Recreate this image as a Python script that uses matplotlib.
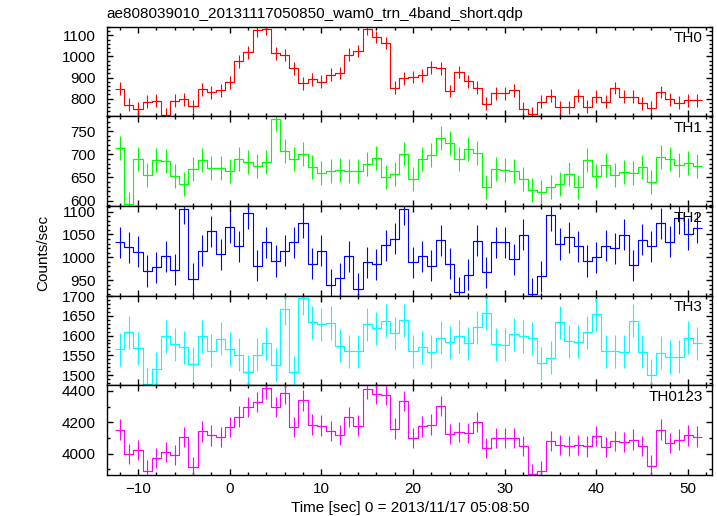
"""Multi-band WAM light curve, QDP style."""

import matplotlib

matplotlib.use("Agg")
import matplotlib.pyplot as plt
from matplotlib.ticker import MultipleLocator

plt.rcParams["font.family"] = ["Liberation Sans", "DejaVu Sans"]
plt.rcParams["font.size"] = 11

# bin centres [sec], 1 s bins
time = list(range(-12, 52))

th0 = [847, 772, 753, 786, 790, 724, 790, 797, 764, 845, 830, 839, 877, 977,
       1020, 1124, 1130, 1014, 1006, 944, 872, 892, 881, 913, 922, 1009, 1025,
       1130, 1092, 1064, 852, 897, 903, 911, 949, 943, 836, 926, 883, 852, 776,
       825, 825, 839, 753, 729, 786, 815, 760, 760, 815, 762, 809, 786, 850,
       809, 809, 778, 757, 832, 797, 781, 792, 792]
th1 = [713, 593, 690, 656, 688, 685, 653, 635, 669, 688, 671, 671, 664, 690,
       683, 675, 684, 777, 707, 690, 701, 673, 660, 664, 667, 665, 665, 680,
       692, 652, 658, 700, 647, 690, 698, 736, 725, 690, 711, 702, 630, 669,
       667, 663, 647, 622, 619, 630, 635, 657, 630, 688, 653, 676, 655, 662,
       659, 673, 640, 694, 690, 677, 682, 675]
th2 = [1033, 1022, 1012, 970, 978, 1002, 973, 1106, 953, 1014, 1057, 1007,
       1066, 1024, 1096, 982, 1033, 992, 1014, 1033, 1076, 986, 1014, 940, 954,
       1002, 931, 989, 985, 1026, 1041, 1105, 989, 1002, 982, 1037, 986, 924,
       962, 1036, 967, 1033, 1033, 996, 1049, 920, 959, 1092, 1029, 1044, 1024,
       992, 1000, 1025, 1020, 1049, 983, 1038, 1024, 1074, 1034, 1086, 1051,
       1065]
th3 = [1565, 1608, 1568, 1477, 1516, 1598, 1578, 1570, 1528, 1598, 1562, 1592,
       1566, 1552, 1509, 1552, 1580, 1526, 1668, 1507, 1695, 1634, 1629, 1632,
       1574, 1560, 1560, 1629, 1618, 1638, 1606, 1639, 1560, 1570, 1559, 1595,
       1583, 1598, 1580, 1621, 1657, 1578, 1577, 1603, 1598, 1593, 1530, 1544,
       1634, 1586, 1584, 1608, 1654, 1560, 1560, 1559, 1638, 1559, 1499, 1557,
       1546, 1547, 1595, 1580]
th0123 = [4154, 3997, 4025, 3893, 3972, 4010, 3993, 4107, 3916, 4143, 4117,
          4107, 4171, 4237, 4297, 4329, 4417, 4299, 4385, 4169, 4340, 4186,
          4179, 4147, 4120, 4233, 4179, 4415, 4379, 4374, 4160, 4336, 4100,
          4175, 4186, 4304, 4126, 4137, 4132, 4203, 4036, 4100, 4100, 4100,
          4051, 3869, 3890, 4083, 4057, 4051, 4057, 4047, 4115, 4042, 4083,
          4075, 4090, 4051, 3925, 4154, 4068, 4090, 4117, 4109]

bands = ["TH0", "TH1", "TH2", "TH3", "TH0123"]
rates = [th0, th1, th2, th3, th0123]
errors = [30, 26, 34, 42, 65]
colors = ["#ff0000", "#00ff00", "#0000ff", "#00ffff", "#ff00ff"]
ylims = [(716, 1140), (588, 782), (916, 1112), (1474, 1701), (3865, 4436)]
major = [100, 50, 50, 50, 200]
minor = [20, 10, 10, 10, 100]


def plot_lightcurve() -> None:
    """Plot the five energy bands as stacked step light curves."""
    fig, axes = plt.subplots(5, 1, sharex=True, figsize=(7.17, 5.16), dpi=100)
    fig.subplots_adjust(left=0.149, right=0.993, top=0.948, bottom=0.0795,
                        hspace=0)

    for ax, name, rate, err, col, ylim, maj, mnr in zip(
        axes, bands, rates, errors, colors, ylims, major, minor
    ):
        ax.step(time, rate, where="mid", color=col, lw=0.8)
        ax.errorbar(time, rate, yerr=err, xerr=0.5, fmt="none", ecolor=col,
                    elinewidth=0.8, capsize=0)
        ax.set_ylim(*ylim)
        ax.yaxis.set_major_locator(MultipleLocator(maj))
        ax.yaxis.set_minor_locator(MultipleLocator(mnr))
        ax.text(0.985, 0.95, name, transform=ax.transAxes, ha="right",
                va="top", fontsize=11)
        ax.tick_params(which="both", direction="in", top=True, right=True,
                       width=1.0)
        ax.tick_params(which="major", length=4)
        ax.tick_params(which="minor", length=2)
        ax.tick_params(axis="y", pad=8)
        for spine in ax.spines.values():
            spine.set_linewidth(1.0)

    axes[-1].set_xlim(-13.4, 52.6)
    axes[-1].xaxis.set_major_locator(MultipleLocator(10))
    axes[-1].xaxis.set_minor_locator(MultipleLocator(2))
    axes[-1].tick_params(axis="x", pad=5)

    axes[0].set_title("ae808039010_20131117050850_wam0_trn_4band_short.qdp",
                      loc="left", fontsize=11, pad=6)
    fig.text(0.06, 0.51, "Counts/sec", rotation=90, ha="center", va="center")
    fig.text(0.572, 0.016, "Time [sec] 0 = 2013/11/17 05:08:50", ha="center",
             va="center")

    plt.savefig("out.png", dpi=100)


if __name__ == "__main__":
    plot_lightcurve()
